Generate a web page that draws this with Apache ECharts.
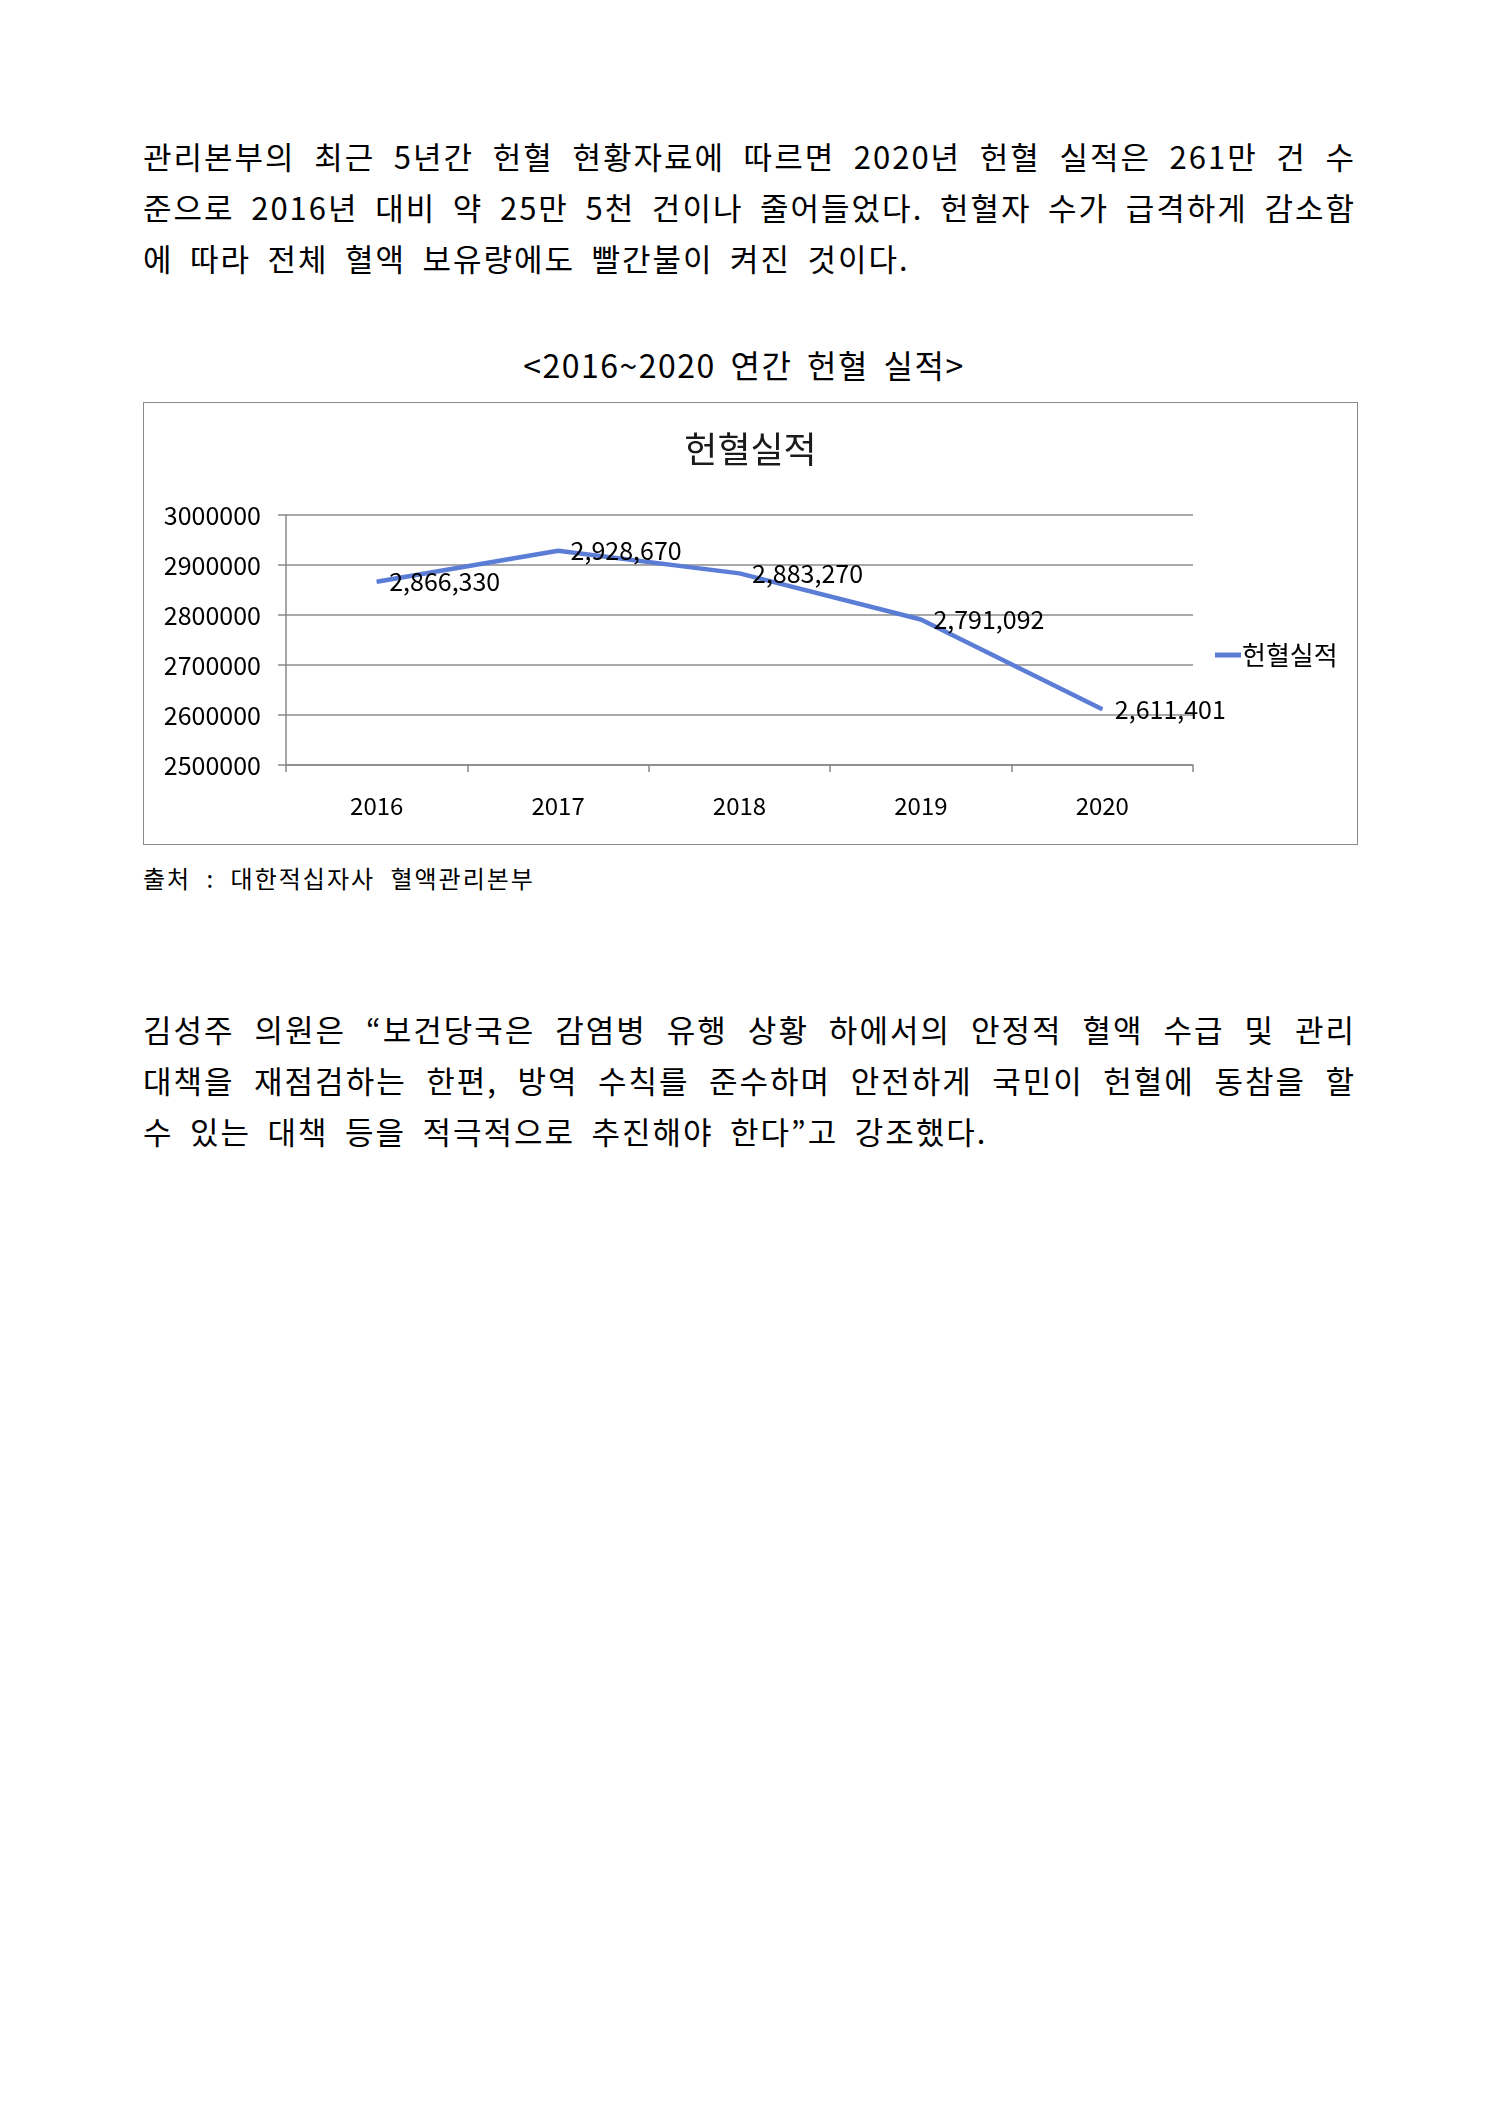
<!DOCTYPE html>
<html>
<head>
<meta charset="utf-8">
<script src="https://cdn.jsdelivr.net/npm/echarts@6/dist/echarts.min.js"></script>
<style>
body { margin:0; background:#fff; font-family:"Noto Sans CJK KR", sans-serif; color:#000; }
.page { position:relative; width:1488px; height:2105px; }
.para { position:absolute; left:143px; width:1213px; font-size:31px; line-height:51px; letter-spacing:2px; word-spacing:3px; }
.para div { text-align:justify; text-align-last:justify; white-space:nowrap; }
.para div.last { text-align-last:left; word-spacing:7.5px; }
.caption { position:absolute; left:0; width:1488px; text-align:center; top:344px; font-size:32px; line-height:40px; letter-spacing:1.5px; word-spacing:6px; }
#chart { position:absolute; left:143px; top:402px; width:1213px; height:441px; border:1.5px solid #8a8a8a; }
.source { position:absolute; left:143px; top:862px; font-size:24px; line-height:32px; letter-spacing:2px; word-spacing:8px; }
</style>
</head>
<body>
<div class="page">
  <div class="para" style="top:130px">
    <div>관리본부의 최근 5년간 헌혈 현황자료에 따르면 2020년 헌혈 실적은 261만 건 수</div>
    <div>준으로 2016년 대비 약 25만 5천 건이나 줄어들었다. 헌혈자 수가 급격하게 감소함</div>
    <div class="last">에 따라 전체 혈액 보유량에도 빨간불이 켜진 것이다.</div>
  </div>
  <div class="caption">&lt;2016~2020 연간 헌혈 실적&gt;</div>
  <div id="chart"></div>
  <div class="source">출처 : 대한적십자사 혈액관리본부</div>
  <div class="para" style="top:1003px">
    <div>김성주 의원은 “보건당국은 감염병 유행 상황 하에서의 안정적 혈액 수급 및 관리</div>
    <div>대책을 재점검하는 한편, 방역 수칙를 준수하며 안전하게 국민이 헌혈에 동참을 할</div>
    <div class="last">수 있는 대책 등을 적극적으로 추진해야 한다”고 강조했다.</div>
  </div>
</div>
<script>
// 연도별 헌혈 실적
var years = ['2016', '2017', '2018', '2019', '2020'];
var donations = [2866330, 2928670, 2883270, 2791092, 2611401];
var seriesName = '헌혈실적';
var yMin = 2500000;
var yMax = 3000000;
var yStep = 100000;

function comma(v) {
    return String(v).replace(/\B(?=(\d{3})+(?!\d))/g, ',');
}

var myChart = echarts.init(document.getElementById('chart'));
var font = '"Noto Sans CJK KR", sans-serif';
var option = {
    animation : false,
    title : {
        text : seriesName,
        left : 'center',
        top : 23,
        textStyle : {
            fontFamily : font,
            fontSize : 36,
            fontWeight : 'normal',
            color : '#1a1a1a'
        }
    },
    legend : {
        data : [seriesName],
        left : 1066,
        top : 234,
        icon : 'rect',
        itemWidth : 26,
        itemHeight : 5,
        itemGap : 0,
        textStyle : {
            fontFamily : font,
            fontSize : 26,
            color : '#000',
            padding : [0, 0, 0, -4]
        }
    },
    grid : {
        left : 142,
        right : 164,
        top : 112,
        bottom : 79
    },
    xAxis : {
        type : 'category',
        data : years,
        boundaryGap : true,
        axisLine : { lineStyle : { color : '#888', width : 1.5 } },
        axisTick : { show : true, length : 7, lineStyle : { color : '#888', width : 1.5 } },
        axisLabel : {
            margin : 29,
            fontFamily : font,
            fontSize : 24,
            color : '#000'
        }
    },
    yAxis : {
        type : 'value',
        min : yMin,
        max : yMax,
        interval : yStep,
        axisLine : { show : true, lineStyle : { color : '#888', width : 1.5 } },
        axisTick : { show : true, length : 8, inside : false, lineStyle : { color : '#888', width : 1.5 } },
        splitLine : { show : true, lineStyle : { color : '#8c8c8c', width : 1.5 } },
        axisLabel : {
            margin : 25,
            fontFamily : font,
            fontSize : 25,
            color : '#000',
            formatter : function(v) {
                return String(v);
            }
        }
    },
    series : [ {
        name : seriesName,
        type : 'line',
        data : donations,
        symbol : 'circle',
        symbolSize : 1,
        showSymbol : true,
        lineStyle : { color : '#5b7dd6', width : 4.5 },
        itemStyle : { color : '#5b7dd6' },
        label : {
            show : true,
            position : 'right',
            distance : 12,
            fontFamily : font,
            fontSize : 25,
            color : '#000',
            formatter : function(p) {
                return comma(p.value);
            }
        }
    } ]
};
myChart.setOption(option);
</script>
</body>
</html>
